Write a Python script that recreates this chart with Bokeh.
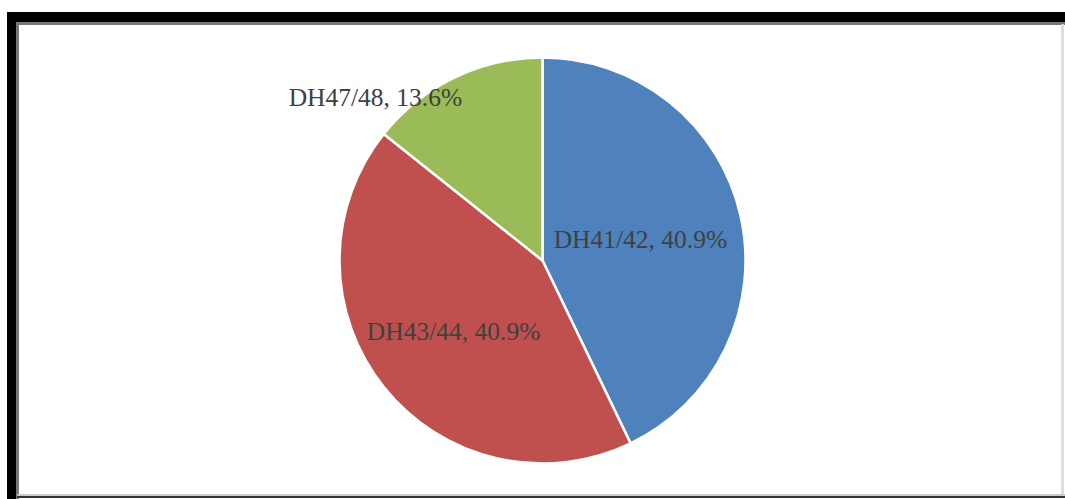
import math
from bokeh.plotting import figure
from bokeh.models import Range1d, ColumnDataSource
from bokeh.core.properties import value
from bokeh.embed import file_html
from bokeh.resources import INLINE

# ---- data ----
categories = ["DH41/42", "DH43/44", "DH47/48"]
counts = [9, 9, 3]
pct_labels = ["40.9%", "40.9%", "13.6%"]
colors = ["#4F81BD", "#C0504D", "#9BBB59"]

# ---- layout ----
W, H = 1065, 499
cx, cy, R = 542, 239, 203
label_rfrac = [0.5, 0.56, 1.0]
label_dx = [-1, 0, -79]
label_dy = [-2, 0, -20]

total = sum(counts)
starts, ends, lx, ly, texts = [], [], [], [], []
a = math.pi / 2
for i, c in enumerate(counts):
    span = 2 * math.pi * c / total
    s, e = a, a - span
    starts.append(s)
    ends.append(e)
    mid = (s + e) / 2
    lx.append(cx + label_rfrac[i] * R * math.cos(mid) + label_dx[i])
    ly.append(cy + label_rfrac[i] * R * math.sin(mid) + label_dy[i])
    texts.append(f"{categories[i]}, {pct_labels[i]}")
    a = e

src = ColumnDataSource(dict(x=[cx] * 3, y=[cy] * 3, start=starts, end=ends,
                            color=colors, lx=lx, ly=ly, text=texts))

p = figure(width=W, height=H, output_backend="svg", toolbar_location=None,
           x_axis_location=None, y_axis_location=None, min_border=0,
           x_range=Range1d(0, W), y_range=Range1d(0, H))
p.grid.visible = False
p.outline_line_color = None
p.background_fill_color = "white"
p.border_fill_color = "white"

# frame decoration
p.quad(left=[7], right=[16], bottom=[0], top=[H - 12], color="black")
p.quad(left=[7], right=[W], bottom=[H - 22], top=[H - 12], color="black")
p.quad(left=[16], right=[18], bottom=[0], top=[H - 22], color="#777777")
p.quad(left=[16], right=[W], bottom=[H - 24], top=[H - 22], color="#777777")
p.quad(left=[1061], right=[1063], bottom=[3], top=[H - 24], color="#dddddd")
p.quad(left=[17], right=[W], bottom=[2], top=[4], color="#333333")
p.quad(left=[17], right=[W], bottom=[4], top=[5], color="#cccccc")

p.wedge(x="x", y="y", radius=R, start_angle="start", end_angle="end",
        direction="clock", fill_color="color", line_color="white",
        line_width=2.5, source=src)

p.text(x="lx", y="ly", text="text", source=src,
       text_font=value("Liberation Serif"), text_font_size="25.5px",
       text_color="#404040", text_align="center", text_baseline="middle")

open("out.html", "w").write(file_html(p, INLINE))
